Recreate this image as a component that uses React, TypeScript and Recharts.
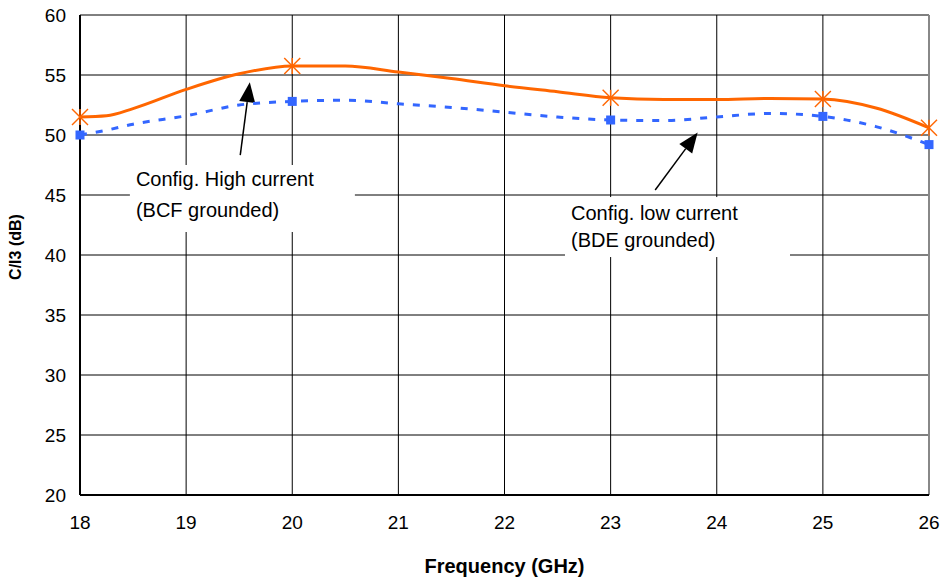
import React from "react";
import {
  ComposedChart,
  Line,
  XAxis,
  YAxis,
  CartesianGrid,
  ReferenceLine,
  ReferenceDot,
} from "recharts";

const freqs = [18, 18.25, 18.5, 19, 19.5, 20, 20.5, 21, 21.5, 22, 22.5, 23, 23.5, 24, 24.5, 25, 25.5, 26];
const highCurrent = [51.5, 51.6, 52.2, 53.8, 55.1, 55.75, 55.75, 55.25, 54.7, 54.1, 53.6, 53.1, 52.95, 52.95, 53.05, 53.0, 52.25, 50.6];
const lowCurrent = [50.0, 50.4, 50.9, 51.6, 52.5, 52.8, 52.9, 52.6, 52.3, 51.9, 51.5, 51.25, 51.2, 51.5, 51.8, 51.55, 50.7, 49.2];
const markerFreqs = [18, 20, 23, 25, 26];
const xTicks = [18, 19, 20, 21, 22, 23, 24, 25, 26];
const yTicks = [20, 25, 30, 35, 40, 45, 50, 55, 60];

const data = freqs.map((f, i) => ({ f, high: highCurrent[i], low: lowCurrent[i] }));

const FONT = "'Liberation Sans', Arial, sans-serif";

const StarDot = (props: any) => {
  const { cx, cy, payload } = props;
  if (!markerFreqs.includes(payload.f)) return null;
  const r = 8;
  return (
    <g stroke="#FF6600" strokeWidth={1.5}>
      <line x1={cx - r} y1={cy - r} x2={cx + r} y2={cy + r} />
      <line x1={cx - r} y1={cy + r} x2={cx + r} y2={cy - r} />
      <line x1={cx} y1={cy - r} x2={cx} y2={cy + r} />
    </g>
  );
};

const SquareDot = (props: any) => {
  const { cx, cy, payload } = props;
  if (!markerFreqs.includes(payload.f)) return null;
  const s = 4.5;
  return <rect x={cx - s} y={cy - s} width={2 * s} height={2 * s} fill="#3366FF" />;
};

const makeBox = (lines: string[], w: number, h: number, first: number, step: number) => (props: any) => {
  const { cx, cy } = props;
  return (
    <g>
      <rect x={cx} y={cy} width={w} height={h} fill="#fff" />
      {lines.map((t, i) => (
        <text
          key={i}
          x={cx + 6}
          y={cy + first + i * step}
          dominantBaseline="middle"
          fontFamily={FONT}
          fontSize={20}
          fill="#000"
        >
          {t}
        </text>
      ))}
    </g>
  );
};

const ArrowShape = (props: any) => {
  const { x1, y1, x2, y2 } = props;
  if ([x1, y1, x2, y2].some((v) => v === undefined || isNaN(v))) return null;
  const ang = Math.atan2(y2 - y1, x2 - x1);
  const len = 20;
  const half = 8;
  const bx = x2 - len * Math.cos(ang);
  const by = y2 - len * Math.sin(ang);
  const px = -Math.sin(ang) * half;
  const py = Math.cos(ang) * half;
  return (
    <g>
      <line x1={x1} y1={y1} x2={bx} y2={by} stroke="#000" strokeWidth={1.5} />
      <polygon points={`${x2},${y2} ${bx + px},${by + py} ${bx - px},${by - py}`} fill="#000" />
    </g>
  );
};

const YLabel = (props: any) => {
  const vb = props.viewBox || {};
  const x = (vb.x ?? 0) + 17;
  const y = (vb.y ?? 0) + (vb.height ?? 0) / 2 - 8;
  return (
    <text
      x={x}
      y={y}
      transform={`rotate(-90, ${x}, ${y})`}
      textAnchor="middle"
      dominantBaseline="middle"
      fontFamily={FONT}
      fontSize={16}
      fontWeight="bold"
      fill="#000"
    >
      C/I3 (dB)
    </text>
  );
};

export default function App() {
  return (
    <div style={{ position: "absolute", left: 0, top: 0, background: "#fff" }}>
      <ComposedChart
        width={943}
        height={578}
        data={data}
        margin={{ top: 15, right: 14, left: 0, bottom: 0 }}
      >
        <CartesianGrid stroke="#000" strokeWidth={1} />
        <XAxis
          dataKey="f"
          type="number"
          domain={[18, 26]}
          ticks={xTicks}
          height={83}
          tickLine={false}
          tickSize={0}
          tickMargin={21}
          axisLine={{ stroke: "#000", strokeWidth: 2 }}
          tick={{ fill: "#000", fontSize: 19, fontFamily: FONT }}
          label={{
            value: "Frequency (GHz)",
            position: "insideBottom",
            offset: 5,
            style: { fill: "#000", fontSize: 20, fontWeight: "bold", fontFamily: FONT },
          }}
        />
        <YAxis
          type="number"
          domain={[20, 60]}
          ticks={yTicks}
          width={80}
          tickLine={false}
          tickSize={0}
          tickMargin={14}
          axisLine={{ stroke: "#000", strokeWidth: 2 }}
          tick={{ fill: "#000", fontSize: 19, fontFamily: FONT }}
          label={<YLabel />}
        />
        <ReferenceLine x={26} stroke="#888" strokeWidth={2} />
        <ReferenceDot x={18.47} y={47.5} r={0} shape={makeBox(["Config. High current", "(BCF grounded)"], 225, 67, 16, 31)} />
        <ReferenceDot x={22.57} y={44.83} r={0} shape={makeBox(["Config. low current", "(BDE grounded)"], 225, 60, 18, 27)} />
        <ReferenceLine segment={[{ x: 19.51, y: 48.33 }, { x: 19.6, y: 54.4 }]} shape={ArrowShape} />
        <ReferenceLine segment={[{ x: 23.42, y: 45.42 }, { x: 23.82, y: 50.2 }]} shape={ArrowShape} />
        <Line
          dataKey="low"
          type="monotone"
          stroke="#3366FF"
          strokeWidth={3}
          strokeDasharray="7 9"
          dot={<SquareDot />}
          isAnimationActive={false}
        />
        <Line
          dataKey="high"
          type="monotone"
          stroke="#FF6600"
          strokeWidth={3}
          dot={<StarDot />}
          isAnimationActive={false}
        />
      </ComposedChart>
    </div>
  );
}
